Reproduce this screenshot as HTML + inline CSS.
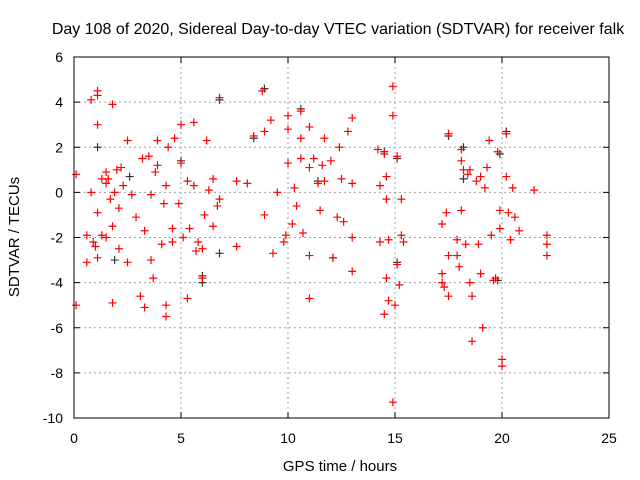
<!DOCTYPE html>
<html><head><meta charset="utf-8"><style>
html,body{margin:0;padding:0;background:#fff;}
svg{display:block;font-family:"Liberation Sans",sans-serif;}
</style></head><body>
<svg id="chart" width="640" height="480">
<text x="338" y="34" font-size="16" text-anchor="middle">Day 108 of 2020, Sidereal Day-to-day VTEC variation (SDTVAR) for receiver falk</text>
<text x="340" y="471" font-size="15" text-anchor="middle">GPS time / hours</text>
<text x="0" y="0" font-size="15" text-anchor="middle" transform="translate(19,237) rotate(-90)">SDTVAR / TECUs</text>
<g id="grid"></g><g id="ticks"></g><g id="marks"></g>
<rect x="74" y="57" width="535" height="361" fill="none" stroke="#000" stroke-width="1"/>
</svg>
<script>
const xTicks=[0,5,10,15,20,25];
const yTicks=[6,4,2,0,-2,-4,-6,-8,-10];
const redX=[0.1,0.1,0.6,0.6,0.8,0.8,0.9,1.0,1.1,1.1,1.1,1.1,1.1,1.3,1.3,1.5,1.5,1.5,1.6,1.7,1.8,1.8,1.8,1.9,2.0,2.1,2.1,2.2,2.3,2.5,2.5,2.7,2.9,3.1,3.2,3.3,3.3,3.5,3.6,3.6,3.7,3.8,3.9,3.9,4.1,4.2,4.3,4.3,4.3,4.4,4.6,4.6,4.7,4.9,5.0,5.0,5.1,5.3,5.3,5.4,5.6,5.6,5.7,5.8,6.0,6.0,6.1,6.2,6.3,6.5,6.5,6.7,6.8,6.8,7.6,7.6,8.1,8.4,8.8,8.9,8.9,9.2,9.3,9.5,9.8,9.9,10.0,10.0,10.0,10.2,10.3,10.4,10.6,10.6,10.6,10.7,11.0,11.0,11.0,11.0,11.2,11.4,11.5,11.6,11.7,11.7,12.0,12.1,12.3,12.4,12.5,12.6,12.8,13.0,13.0,13.0,13.0,14.2,14.3,14.3,14.5,14.5,14.6,14.6,14.6,14.7,14.7,14.9,14.9,14.9,15.0,15.1,15.1,15.2,15.3,15.3,15.4,17.2,17.2,17.2,17.3,17.4,17.5,17.5,17.5,17.9,17.9,18.0,18.1,18.1,18.1,18.2,18.3,18.4,18.5,18.5,18.6,18.6,18.8,18.9,19.0,19.0,19.1,19.2,19.3,19.4,19.5,19.6,19.7,19.8,19.9,19.9,20.0,20.0,20.2,20.2,20.3,20.4,20.5,20.6,20.8,21.5,22.1,22.1,22.1];
const redY=[0.8,-5.0,-1.9,-3.1,4.1,0.0,-2.2,-2.4,4.3,4.5,3.0,-0.9,-2.9,0.6,-1.9,0.9,0.4,-2.0,0.6,-0.3,3.9,-1.5,-4.9,0.0,1.0,-0.7,-2.5,1.1,0.3,2.3,-3.1,-0.1,-1.1,-4.6,1.5,-5.1,-1.7,1.6,-0.1,-3.0,-3.8,0.9,2.3,1.2,-2.3,-0.5,-5.0,-5.5,0.3,2.0,-1.6,-2.2,2.4,-0.5,3.0,1.3,-2.0,-4.7,0.5,-1.6,3.1,0.3,-2.6,-2.2,-2.5,-3.8,-1.0,2.3,0.1,-1.5,0.6,-0.6,4.2,-0.3,0.5,-2.4,0.4,2.5,4.5,2.7,-1.0,3.2,-2.7,0.0,-2.2,-1.9,3.4,2.8,1.3,-1.4,0.2,-0.6,3.6,2.4,1.5,-1.8,2.9,1.1,-4.7,-2.8,1.5,0.4,-0.8,1.2,0.5,2.4,1.4,-2.9,-1.1,2.0,0.6,-1.3,2.7,-2.0,3.3,-3.5,0.4,1.9,-2.2,0.3,1.7,-5.4,-0.3,0.7,-3.8,-2.1,-4.8,-9.3,4.7,3.4,-5.0,1.6,-3.2,-4.1,-0.3,-1.9,-2.2,-1.4,-3.6,-4.0,-4.2,-0.9,2.6,-4.6,-2.8,-2.1,-2.8,-3.3,1.9,1.4,-0.8,1.0,-2.3,0.8,-4.0,1.0,-4.6,-6.6,0.5,-2.3,0.7,-3.6,-6.0,0.2,1.1,2.3,-1.9,-3.9,-3.8,1.8,-1.6,-0.8,-7.4,-7.7,2.6,0.7,-0.9,-2.1,0.2,-1.1,-1.7,0.1,-1.9,-2.3,-2.8];
const blackX=[1.1,1.9,2.6,5.0,6.0,6.0,6.8,6.8,8.4,8.9,10.6,11.4,12.1,14.5,15.1,15.1,17.5,18.2,18.2,19.8,19.9,20.2];
const blackY=[2.0,-3.0,0.7,1.4,-4.0,-3.7,4.1,-2.7,2.4,4.6,3.7,0.5,-2.9,1.8,-3.1,1.5,2.5,2.0,0.6,-3.9,1.7,2.7];
const X0=74,X1=609,Y0=57,Y1=418;
const sx=v=>X0+(v-0)/25*(X1-X0);
const sy=v=>Y0+(6-v)/16*(Y1-Y0);
const NS="http://www.w3.org/2000/svg";
const grid=document.getElementById('grid'),ticks=document.getElementById('ticks'),marks=document.getElementById('marks');
function mk(t,a,p){const e=document.createElementNS(NS,t);for(const k in a)e.setAttribute(k,a[k]);p.appendChild(e);return e;}
xTicks.forEach(v=>{const x=sx(v);
 if(v>0&&v<25){const g=mk('line',{x1:x,y1:Y0,x2:x,y2:Y1,stroke:'#a0a0a0','stroke-dasharray':'2,3'},grid);
 
 }
 mk('line',{x1:x,y1:Y1,x2:x,y2:Y1-6,stroke:'#000'},ticks);
 mk('line',{x1:x,y1:Y0,x2:x,y2:Y0+6,stroke:'#000'},ticks);
 const t=mk('text',{x:x,y:443,'font-size':14,'text-anchor':'middle'},ticks);t.textContent=v;
 
 
});
yTicks.forEach(v=>{const y=sy(v);
 if(v<6&&v>-10){const g=mk('line',{x1:X0,y1:y,x2:X1,y2:y,stroke:'#a0a0a0','stroke-dasharray':'2,3'},grid);
 
 }
 mk('line',{x1:X0,y1:y,x2:X0+6,y2:y,stroke:'#000'},ticks);
 mk('line',{x1:X1,y1:y,x2:X1-6,y2:y,stroke:'#000'},ticks);
 const t=mk('text',{x:63,y:y+5,'font-size':14,'text-anchor':'end'},ticks);t.textContent=v;
 
 
});
function plus(xs,ys,col,name){xs.forEach((v,i)=>{const x=sx(v),y=sy(ys[i]);
 const p=mk('path',{d:`M${x-4},${y}H${x+4}M${x},${y-4}V${y+4}`,stroke:col,'stroke-width':1.2,fill:'none'},marks);
 
 });}
plus(blackX,blackY,'#333','black-point');
plus(redX,redY,'#ff0000','red-point');
</script>
</body></html>
